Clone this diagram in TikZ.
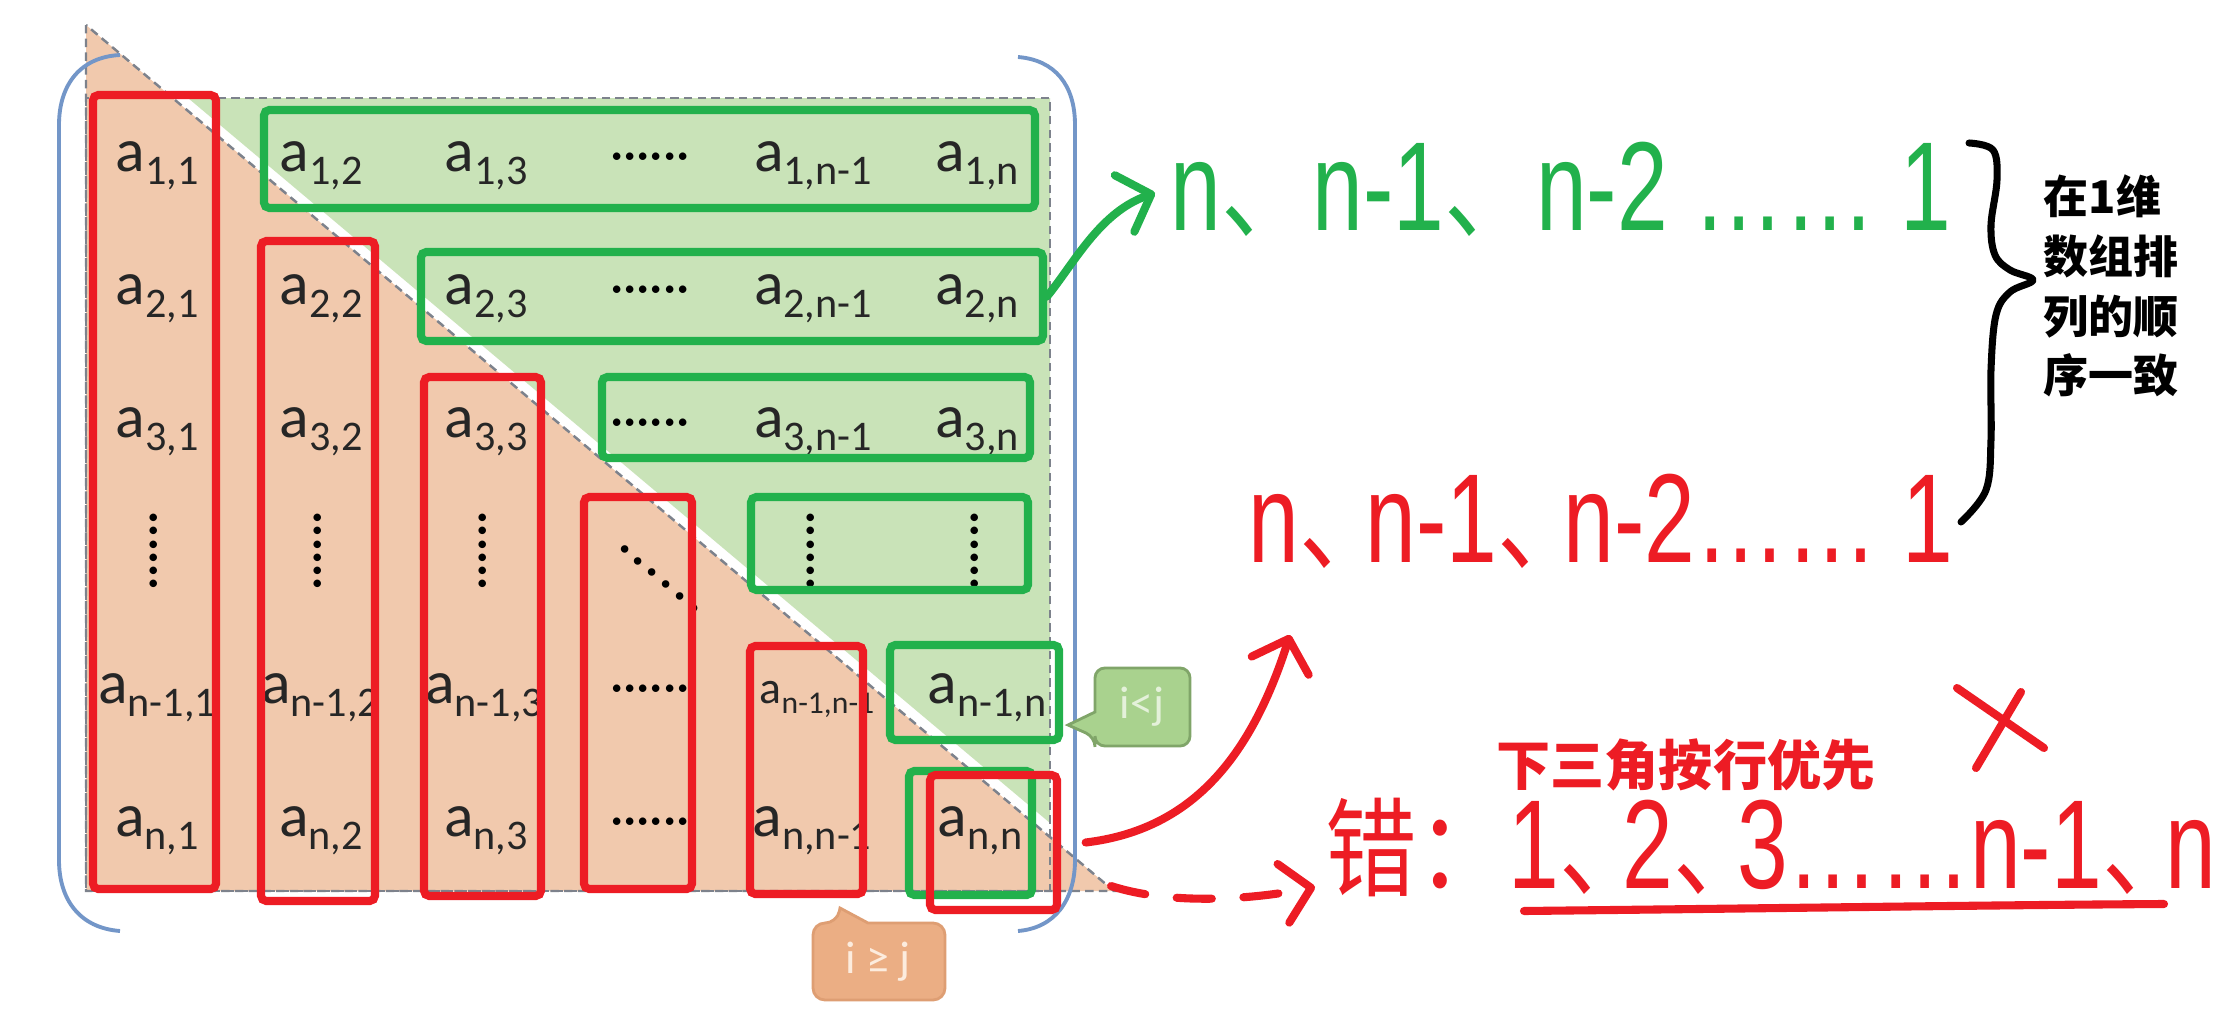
\documentclass[tikz,border=0pt]{standalone}
\usepackage{fontspec}
\setmainfont{Carlito}
\newfontfamily\cjkfont{Noto Sans CJK SC}
\newfontfamily\handfont[FakeStretch=0.72]{Liberation Sans}
\newfontfamily\cjkhandfont[FakeStretch=0.85,Scale=0.85]{Noto Sans CJK SC}
\usetikzlibrary{arrows.meta,fit}
\definecolor{penred}{RGB}{237,28,36}
\definecolor{pengreen}{RGB}{34,177,76}
\definecolor{lowfill}{RGB}{241,201,173}
\definecolor{upfill}{RGB}{201,227,184}
\definecolor{edgegray}{RGB}{125,130,140}
\definecolor{bracketblue}{RGB}{115,150,200}
\definecolor{ltfill}{RGB}{169,210,142}
\definecolor{ltedge}{RGB}{128,165,105}
\definecolor{ltword}{RGB}{228,241,218}
\definecolor{gefill}{RGB}{235,174,132}
\definecolor{geedge}{RGB}{222,158,115}
\definecolor{geword}{RGB}{252,236,222}
\newcommand{\ent}[2][12]{a\raisebox{-0.22em}{\fontsize{#1}{#1}\selectfont #2}}
\newcommand{\dun}[1][0em]{{\cjkhandfont 、}\kern-#1}
\tikzset{
	cell/.style = {anchor = base, inner sep = 0pt, text = black!85, font = \fontsize{17.5}{20}\selectfont},
	dotrow/.style = {anchor = base, inner sep = 0pt, text = black, font = \fontsize{15}{15}\selectfont},
	colbox/.style = {draw = penred, line width = 2.3pt, rounded corners = 1.5pt, inner sep = 0pt},
	rowbox/.style = {draw = pengreen, line width = 2.3pt, rounded corners = 1.5pt, inner sep = 0pt},
	gridedge/.style = {draw = edgegray, line width = 0.7pt, dash pattern = on 2.4pt off 1.5pt},
	bracket/.style = {draw = bracketblue, line width = 1.1pt},
	penline/.style = {line width = 2.3pt, line cap = round, line join = round},
	barb/.style = {-{Straight Barb[length = 8pt, width = 17pt, round]}},
	handtext/.style = {anchor = base west, inner sep = 0pt, font = \handfont\fontsize{36}{40}\selectfont},
	tagtext/.style = {inner sep = 0pt, font = \fontsize{13}{15}\selectfont},
	boldtext/.style = {inner sep = 0pt}
}
\begin{document}
\begin{tikzpicture}[x = 0.01cm, y = -0.01cm]
	\useasboundingbox (0,0) rectangle (2226,1018);
	\fill [white] (0,0) rectangle (2226,1018);
	\draw [gridedge, fill = lowfill] (86,25) -- (86,891) -- (1114,891) -- cycle;
	\fill [upfill] (188,98) -- (1050,98) -- (1050,823) -- cycle;
	\draw [gridedge] (86,98) rectangle (1050,891);
	\draw [bracket] (120,55) .. controls (80,57) and (59,85) .. (59,125) -- (59,860) .. controls (59,900) and (80,928) .. (120,931);
	\draw [bracket] (1018,57) .. controls (1055,60) and (1075,85) .. (1075,125) -- (1075,860) .. controls (1075,900) and (1055,928) .. (1018,931);

	\node [cell] (c11) at (157,171) {\ent{1,1}};
	\node [cell] (c12) at (321,171) {\ent{1,2}};
	\node [cell] (c13) at (486,171) {\ent{1,3}};
	\node [dotrow] (c14) at (650,171) {······};
	\node [cell] (c15) at (813,171) {\ent{1,n-1}};
	\node [cell] (c16) at (977,171) {\ent{1,n}};
	\node [cell] (c21) at (157,304) {\ent{2,1}};
	\node [cell] (c22) at (321,304) {\ent{2,2}};
	\node [cell] (c23) at (486,304) {\ent{2,3}};
	\node [dotrow] (c24) at (650,304) {······};
	\node [cell] (c25) at (813,304) {\ent{2,n-1}};
	\node [cell] (c26) at (977,304) {\ent{2,n}};
	\node [cell] (c31) at (157,437) {\ent{3,1}};
	\node [cell] (c32) at (321,437) {\ent{3,2}};
	\node [cell] (c33) at (486,437) {\ent{3,3}};
	\node [dotrow] (c34) at (650,437) {······};
	\node [cell] (c35) at (813,437) {\ent{3,n-1}};
	\node [cell] (c36) at (977,437) {\ent{3,n}};
	\node [dotrow, anchor = center, rotate = 90] (c41) at (159,551) {······};
	\node [dotrow, anchor = center, rotate = 90] (c42) at (323,551) {······};
	\node [dotrow, anchor = center, rotate = 90] (c43) at (488,551) {······};
	\node [dotrow, anchor = center, rotate = -40] (c44) at (656,583) {·\kern1.4pt·\kern1.4pt·\kern1.4pt·\kern1.4pt·\kern1.4pt·};
	\node [dotrow, anchor = center, rotate = 90] (c45) at (816,551) {······};
	\node [dotrow, anchor = center, rotate = 90] (c46) at (980,551) {······};
	\node [cell] (c51) at (157,703) {\ent{n-1,1}};
	\node [cell] (c52) at (320,703) {\ent{n-1,2}};
	\node [cell] (c53) at (484,703) {\ent{n-1,3}};
	\node [dotrow] (c54) at (650,703) {······};
	\node [cell, font = \fontsize{13}{15}\selectfont] (c55) at (817,703) {\ent[9]{n-1,n-1}};
	\node [cell] (c56) at (987,703) {\ent{n-1,n}};
	\node [cell] (c61) at (157,836) {\ent{n,1}};
	\node [cell] (c62) at (321,836) {\ent{n,2}};
	\node [cell] (c63) at (486,836) {\ent{n,3}};
	\node [dotrow] (c64) at (650,836) {······};
	\node [cell] (c65) at (812,836) {\ent{n,n-1}};
	\node [cell] (c66) at (980,836) {\ent{n,n}};

	\node [rowbox, fit = {(264,110) (1035,208)}] (row1) {};
	\node [rowbox, fit = {(421,252) (1043,341)}] (row2) {};
	\node [rowbox, fit = {(602,377) (1030,458)}] (row3) {};
	\node [rowbox, fit = {(751,497) (1028,590)}] (row4) {};
	\node [rowbox, fit = {(890,645) (1059,740)}] (row5) {};
	\node [rowbox, fit = {(909,771) (1032,895)}] (row6) {};
	\node [colbox, fit = {(93,95) (216,889)}] (col1) {};
	\node [colbox, fit = {(261,241) (375,901)}] (col2) {};
	\node [colbox, fit = {(424,377) (541,896)}] (col3) {};
	\node [colbox, fit = {(584,497) (692,889)}] (col4) {};
	\node [colbox, fit = {(750,646) (863,894)}] (col5) {};
	\node [colbox, fit = {(930,775) (1057,910)}] (col6) {};

	\draw [draw = ltedge, fill = ltfill, line width = 0.8pt] (1095,737) -- (1068,725) -- (1095,712) [rounded corners = 2.8pt] -- (1095,668) -- (1190,668) -- (1190,746) -- (1095,746) -- cycle;
	\node [tagtext, text = ltword] (ltlab) at (1142,707) {i<j};
	\draw [draw = geedge, fill = gefill, line width = 0.8pt] (837,923) -- (840,908) -- (868,923) [rounded corners = 3.4pt] -- (945,923) -- (945,1000) -- (813,1000) -- (813,923) -- cycle;
	\node [tagtext, text = geword] (gelab) at (878,962) {i ≥ j};

	\node [handtext, text = pengreen] (gseq) at (1170,230) {n\dun n-1\dun n-2 …… 1};
	\node [handtext, text = penred] (rseq) at (1248,562) {n\dun[0.2em] n-1\dun[0.2em] n-2…… 1};
	\node [handtext, text = penred] (wrong) at (1325,888) {{\cjkhandfont 错：}1\dun[0.22em] 2\dun[0.22em] 3……n-1\dun[0.22em] n};
	\node [boldtext, text = penred, font = \cjkfont\bfseries\fontsize{15.4}{18}\selectfont] (order) at (1686,765) {下三角按行优先};
	\node [boldtext, anchor = north west, align = left, font = \cjkfont\bfseries\fontsize{12.8}{17}\selectfont] (same) at (2043,174) {在1维\\数组排\\列的顺\\序一致};

	\coordinate (gtip) at (1155,193);
	\coordinate (rtip) at (1290,635);
	\coordinate (dtip) at (1315,887);
	\draw [penline, barb, draw = pengreen] (row2.east) .. controls (1075,262) and (1100,212) .. (gtip);
	\draw [penline, barb, draw = penred] ([xshift = 7pt]col6.east) .. controls (1190,830) and (1250,760) .. (rtip);
	\draw [penline, barb, draw = penred, dash pattern = on 10pt off 9pt] ([shift = {(50,-28)}]col6.south east) .. controls (1170,905) and (1250,900) .. (dtip);

	\draw [penline, line width = 2pt] plot [smooth, tension = 0.6] coordinates {(1969,143) (1993,150) (1997,180) (1991,225) (1995,255) (2010,270) (2033,280) (2010,292) (1996,315) (1991,370) (1991,440) (1986,490) (1961,522)};
	\draw [penline, draw = penred] (1957,688) -- (2044,748);
	\draw [penline, draw = penred] (2021,692) -- (1976,768);
	\draw [penline, draw = penred] (1524,911) .. controls (1800,908) and (2000,905) .. (2164,904);
\end{tikzpicture}
\end{document}
